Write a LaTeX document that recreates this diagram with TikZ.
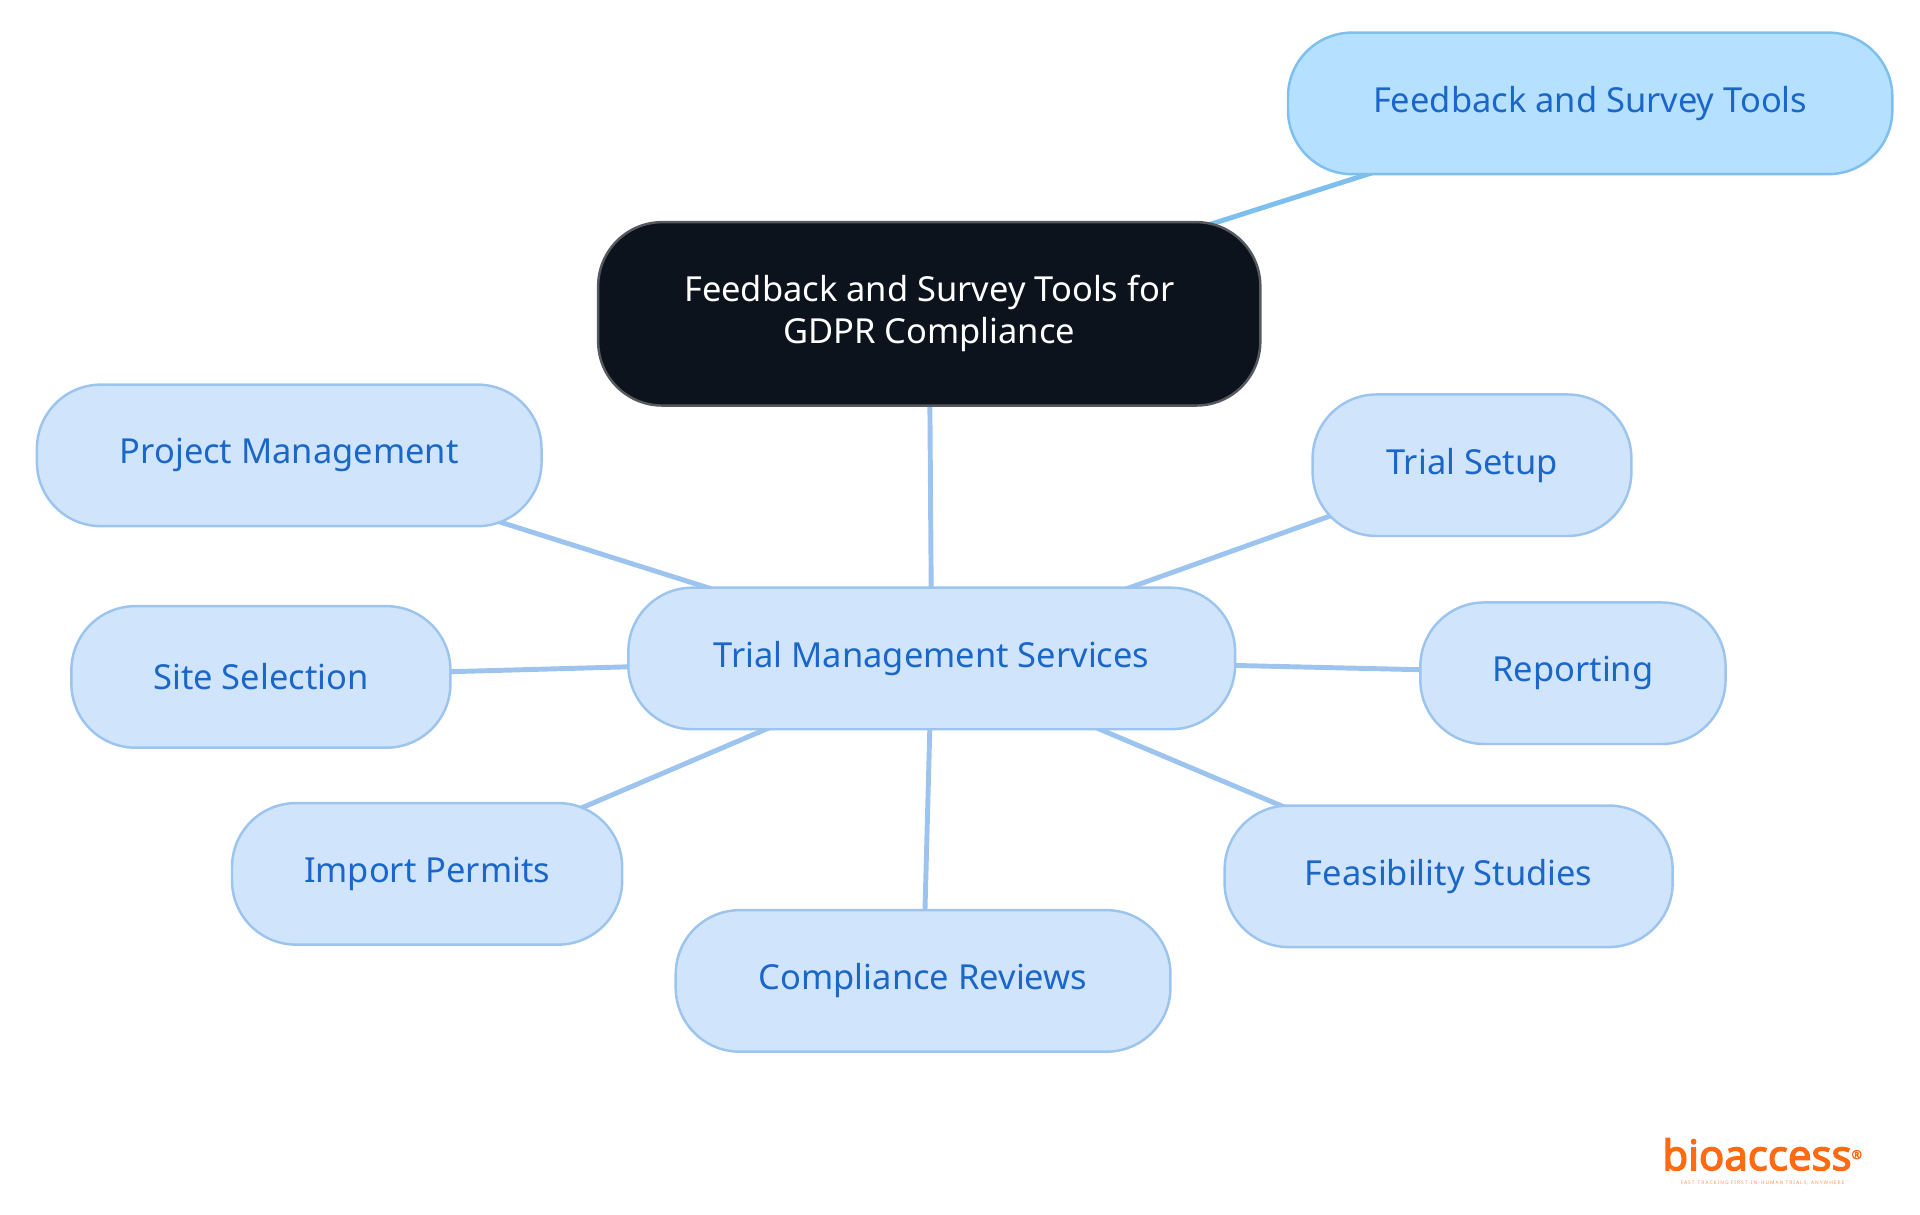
\documentclass[tikz,border=0pt]{standalone}
\usepackage{fontspec}
\setmainfont{Noto Sans}
\newfontfamily\logofont{Noto Sans}[FakeBold=3]
\newfontfamily\tagfont{Noto Sans}[LetterSpace=20]
\usetikzlibrary{backgrounds}
\definecolor{leaf}{HTML}{D0E5FB}
\definecolor{leafline}{HTML}{9CC4EE}
\definecolor{leaftext}{HTML}{1A66C9}
\definecolor{top}{HTML}{B5E0FF}
\definecolor{topline}{HTML}{7EBFEE}
\definecolor{root}{HTML}{0D131C}
\definecolor{logo}{HTML}{FF6A13}
\begin{document}
\begin{tikzpicture}[x=1pt,y=-1pt,
  box/.style={draw=leafline, fill=leaf, line width=2pt, rounded corners=52pt,
    minimum height=115pt, text=leaftext, font=\fontsize{28}{34}\selectfont},
  link/.style={draw=leafline, line width=4pt}]
\useasboundingbox (0,0) rectangle (1560,987);
\node[box, fill=root, draw=root!70!white, text=white, minimum width=538pt, minimum height=149pt, align=center] (r) at (755,255) {Feedback and Survey Tools for\\GDPR Compliance};
\node[box, fill=top, draw=topline, minimum width=491pt] (f) at (1292,84) {Feedback and Survey Tools};
\node[box, minimum width=493pt] (t) at (757,535) {Trial Management Services};
\node[box, minimum width=410pt] (pm) at (235,370) {Project Management};
\node[box, minimum width=259pt] (ts) at (1196,378) {Trial Setup};
\node[box, minimum width=308pt] (ss) at (212,550) {Site Selection};
\node[box, minimum width=248pt] (rp) at (1278,547) {Reporting};
\node[box, minimum width=317pt] (ip) at (347,710) {Import Permits};
\node[box, minimum width=364pt] (fs) at (1177,712) {Feasibility Studies};
\node[box, minimum width=402pt] (cr) at (750,797) {Compliance Reviews};
\begin{scope}[on background layer]
\draw[link, draw=topline] (r.center) -- (f.center);
\draw[link] (r.center) -- (t.center);
\foreach \n in {pm,ts,ss,rp,ip,fs,cr} \draw[link] (t.center) -- (\n.center);
\end{scope}
\node[text=logo, font=\fontsize{34}{34}\logofont, inner sep=0pt] (logo) at (1432,938) {bioaccess\textsuperscript{\fontsize{10}{10}\selectfont®}};
\node[text=logo!70!white, font=\fontsize{4}{5}\tagfont, inner sep=0pt, anchor=north] (tag) at ([yshift=-8pt]logo.south) {FAST-TRACKING FIRST-IN-HUMAN TRIALS, ANYWHERE};
\end{tikzpicture}
\end{document}
